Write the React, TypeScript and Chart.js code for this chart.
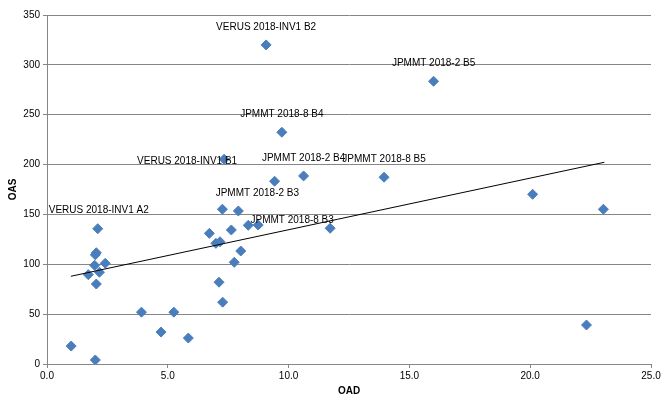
import React, { useEffect, useRef } from "react";
import { Chart, registerables } from "chart.js";

Chart.register(...registerables);

// OAD (x) values
const oad = [
  1.0, 2.0, 1.71, 1.97, 2.04, 2.0, 2.1, 2.04, 2.17, 2.41,
  3.91, 4.72, 5.25, 5.85, 6.72, 6.99, 7.16, 7.12, 7.27, 7.26,
  7.92, 7.63, 7.75, 8.02, 8.33, 8.74, 9.42, 11.72, 9.07, 16.0,
  9.72, 7.33, 10.62, 13.95, 20.1, 23.03, 22.33,
];
// OAS (y) values
const oas = [
  18, 4, 89.6, 99, 111.6, 109.5, 135.7, 80.2, 92, 101,
  52, 32, 52, 26, 131, 121, 122.6, 82, 62, 155.2,
  153.5, 134.4, 102, 113.3, 139.1, 139.4, 183.3, 136.1, 320, 283.5,
  232.4, 205.3, 188.6, 187.3, 170.2, 155.2, 39.1,
];
// Data labels by point index
const labelIndex = [6, 20, 25, 28, 29, 30, 31, 32, 33];
const labelText = [
  "VERUS 2018-INV1 A2",
  "JPMMT 2018-2 B3",
  "JPMMT 2018-8 B3",
  "VERUS 2018-INV1 B2",
  "JPMMT 2018-2 B5",
  "JPMMT 2018-8 B4",
  "VERUS 2018-INV1 B1",
  "JPMMT 2018-2 B4",
  "JPMMT 2018-8 B5",
];
// Label pixel offsets (style)
const labelDx = [1, 19, 34, 0, 0, 0, -37, 0, 0];
const labelDy = [-18, -18, -5, -18, -18, -18, 2, -18, -18];

// Linear trendline endpoints
const trendX = [0.99, 23.07];
const trendY = [88, 202.3];

const xTicks = [0, 5, 10, 15, 20, 25];
const yTicks = [0, 50, 100, 150, 200, 250, 300, 350];

const FONT = "'Liberation Sans', Arial, sans-serif";

const labelPlugin = {
  id: "pointLabels",
  afterDatasetsDraw(chart: any) {
    const meta = chart.getDatasetMeta(1);
    const ctx = chart.ctx;
    ctx.save();
    ctx.font = `10px ${FONT}`;
    ctx.fillStyle = "#000";
    ctx.textAlign = "center";
    ctx.textBaseline = "middle";
    labelIndex.forEach((idx, i) => {
      const el = meta.data[idx];
      if (!el) return;
      ctx.fillText(labelText[i], el.x + labelDx[i], el.y + labelDy[i]);
    });
    ctx.restore();
  },
};

export default function App() {
  const ref = useRef<HTMLCanvasElement>(null);
  useEffect(() => {
    document.body.style.margin = "0";
    const points = oad.map((x, i) => ({ x, y: oas[i] }));
    const trend = trendX.map((x, i) => ({ x, y: trendY[i] }));
    const chart = new Chart(ref.current!, {
      type: "scatter",
      data: {
        datasets: [
          {
            type: "line",
            data: trend,
            borderColor: "#000",
            borderWidth: 1,
            pointRadius: 0,
            fill: false,
            order: 0,
          } as any,
          {
            data: points,
            pointStyle: "rectRot",
            pointRadius: 5,
            pointBorderWidth: 1,
            backgroundColor: "#4A7EBB",
            borderColor: "#4A7EBB",
            order: 1,
          },
        ],
      },
      options: {
        animation: false,
        responsive: false,
        devicePixelRatio: 1,
        layout: { padding: { top: 15, right: 18, left: 0, bottom: 0 } },
        plugins: { legend: { display: false }, tooltip: { enabled: false } },
        scales: {
          x: {
            type: "linear",
            min: 0,
            max: 25,
            afterFit: (s: any) => {
              s.height = 41;
            },
            afterBuildTicks: (s: any) => {
              s.ticks = xTicks.map((v) => ({ value: v }));
            },
            ticks: {
              font: { family: FONT, size: 10 },
              color: "#000",
              padding: 2,
              maxRotation: 0,
              callback: (v: any) => Number(v).toFixed(1),
            },
            grid: {
              drawOnChartArea: false,
              drawTicks: true,
              tickLength: 4,
              color: "#868686",
            },
            border: { display: true, color: "#868686" },
            title: {
              display: true,
              text: "OAD",
              font: { family: FONT, size: 10, weight: "bold" },
              color: "#000",
              padding: { top: 0, bottom: 8 },
            },
          },
          y: {
            type: "linear",
            min: 0,
            max: 350,
            afterFit: (s: any) => {
              s.width = 47;
            },
            afterBuildTicks: (s: any) => {
              s.ticks = yTicks.map((v) => ({ value: v }));
            },
            ticks: {
              font: { family: FONT, size: 10 },
              color: "#000",
              padding: 3,
            },
            grid: {
              drawOnChartArea: true,
              drawTicks: true,
              tickLength: 4,
              color: "#868686",
            },
            border: { display: true, color: "#868686" },
            title: {
              display: true,
              text: "OAS",
              font: { family: FONT, size: 10, weight: "bold" },
              color: "#000",
              padding: { top: 7, bottom: 0 },
            },
          },
        },
      },
      plugins: [labelPlugin],
    });
    return () => chart.destroy();
  }, []);
  return (
    <div style={{ position: "absolute", left: 0, top: 0, width: 669, height: 405, background: "#fff" }}>
      <canvas ref={ref} width={669} height={405} style={{ width: 669, height: 405 }} />
    </div>
  );
}
